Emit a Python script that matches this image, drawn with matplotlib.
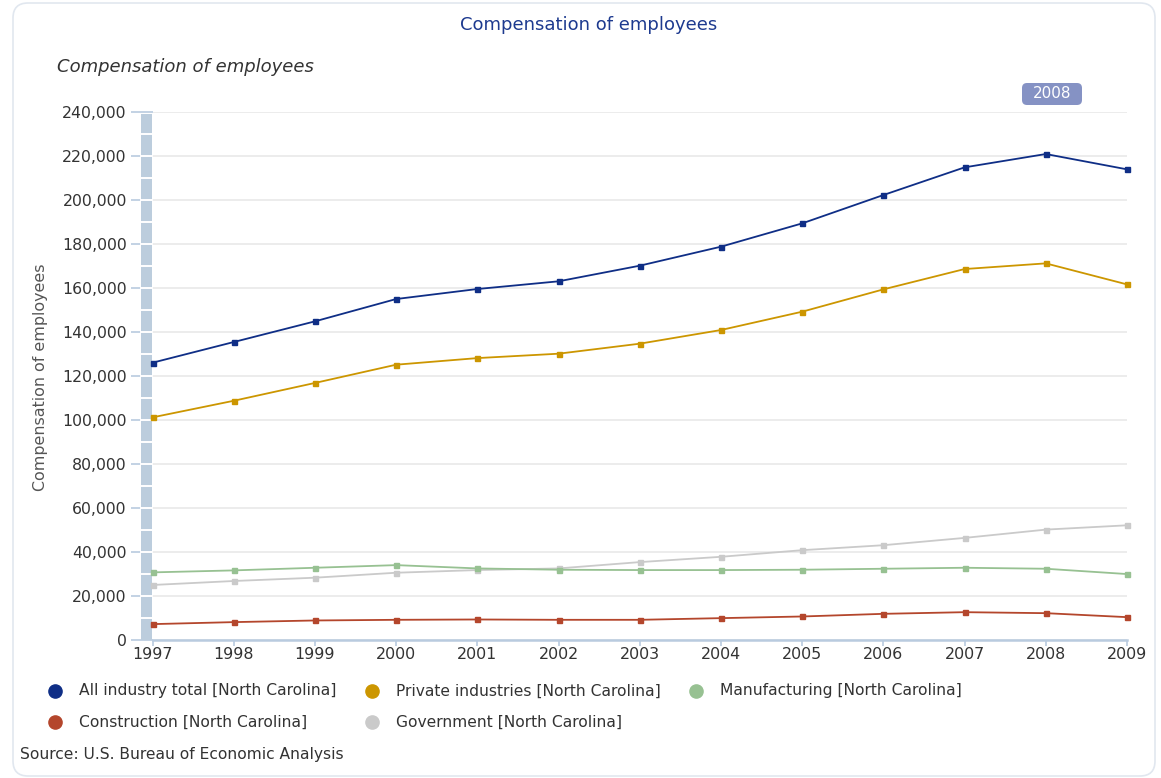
import matplotlib
matplotlib.use("Agg")
import matplotlib.pyplot as plt
from matplotlib.lines import Line2D
from matplotlib.patches import Rectangle, FancyBboxPatch
from matplotlib.transforms import IdentityTransform, blended_transform_factory
from matplotlib.ticker import FuncFormatter

# ---- data -------------------------------------------------------------
years = [1997, 1998, 1999, 2000, 2001, 2002, 2003, 2004, 2005, 2006, 2007, 2008, 2009]

all_industry = [125900, 135300, 144700, 154850, 159400, 162900, 170000,
                178640, 189240, 202120, 214700, 220760, 213800]
private_industries = [101060, 108600, 116700, 125000, 128000, 130000, 134550,
                      140760, 149090, 159240, 168480, 171060, 161500]
manufacturing = [30600, 31500, 32700, 33900, 32400, 31800, 31650,
                 31650, 31800, 32250, 32700, 32250, 29840]
construction = [7080, 7990, 8740, 9040, 9190, 9040, 9040,
                9800, 10550, 11760, 12510, 12060, 10250]
government = [24870, 26680, 28180, 30440, 31650, 32400, 35270,
              37680, 40690, 42950, 46270, 50040, 52000]

series_labels = [
    "All industry total [North Carolina]",
    "Private industries [North Carolina]",
    "Manufacturing [North Carolina]",
    "Construction [North Carolina]",
    "Government [North Carolina]",
]
series_values = [all_industry, private_industries, manufacturing, construction, government]
series_colors = ["#0f2e86", "#cc9600", "#97c192", "#b4462c", "#cacaca"]

y_ticks = list(range(0, 240001, 20000))
title = "Compensation of employees"
source_note = "Source: U.S. Bureau of Economic Analysis"
highlight_year = "2008"

# ---- figure -------------------------------------------------------------
W, H = 1161, 778
fig = plt.figure(figsize=(W / 100, H / 100), dpi=100)
plt.rcParams["font.family"] = ["DejaVu Sans"]


def fx(x):
    return x / W


def fy(y):
    return 1 - y / H


left_px, right_px, top_px, bottom_px = 152.5, 1127, 111.7, 639.7
ax = fig.add_axes([fx(left_px), fy(bottom_px),
                   (right_px - left_px) / W, (bottom_px - top_px) / H])
ax.set_xlim(years[0], years[-1])
ax.set_ylim(0, 240000)

axis_blue = "#b9cbdf"
text_dark = "#333333"

for vals, col, z in zip(series_values, series_colors, [6, 5, 4, 4, 3]):
    ax.plot(years, vals, color=col, lw=1.3, marker="s", ms=3.6,
            mec=col, mfc=col, clip_on=False, zorder=z)

# axes styling
for side in ["top", "right", "left"]:
    ax.spines[side].set_visible(False)
ax.spines["bottom"].set_color(axis_blue)
ax.spines["bottom"].set_linewidth(1.8)

ax.set_xticks(years)
ax.set_xticklabels([str(y) for y in years])
ax.set_yticks(y_ticks)
ax.yaxis.set_major_formatter(FuncFormatter(lambda v, p: f"{v:,.0f}"))
ax.tick_params(axis="x", length=4.5, width=1.2, color=axis_blue,
               labelsize=11.4, labelcolor=text_dark, pad=1)
ax.tick_params(axis="y", length=16, width=1.2, color=axis_blue,
               labelsize=11.3, labelcolor=text_dark, pad=2.5)
ax.yaxis.grid(True, color="#ebebeb", lw=1.3, zorder=0)
ax.set_axisbelow(True)

# range bar along the value axis
bt = blended_transform_factory(fig.transFigure, ax.transData)
bar = Rectangle((fx(141), 0), fx(152) - fx(141), 238900, transform=bt,
                facecolor="#bccddd", edgecolor="none", clip_on=False, zorder=2.6)
ax.add_artist(bar)
for v in range(10000, 240000, 10000):
    ax.add_artist(Line2D([fx(141), fx(152)], [v, v], transform=bt,
                         color="white", lw=1.4, clip_on=False, zorder=2.7))

# texts
fig.text(fx(588.5), fy(25), title, ha="center", va="center",
         fontsize=13, color="#1d3a8f")
fig.text(fx(57), fy(67), title, ha="left", va="center",
         fontsize=13, style="italic", color=text_dark)
fig.text(fx(41), fy(377.5), title, ha="center", va="center",
         rotation=90, fontsize=11.4, color="#555555")

# highlighted year badge
badge = FancyBboxPatch((1022, H - 105), 60, 22,
                       boxstyle="round,pad=0,rounding_size=5",
                       transform=IdentityTransform(),
                       facecolor="#8592c4", edgecolor="none", zorder=10)
fig.add_artist(badge)
fig.text(fx(1052), fy(94), highlight_year, ha="center", va="center",
         fontsize=11, color="white", zorder=11)

# legend
legend_pos = [(55, 691), (372, 691), (696, 691), (55, 722), (372, 722)]
for (mx, my), lab, col in zip(legend_pos, series_labels, series_colors):
    fig.add_artist(Line2D([fx(mx)], [fy(my)], marker="o", ms=9.5,
                          color=col, mec=col, transform=fig.transFigure))
    fig.text(fx(mx + 24), fy(my), lab, ha="left", va="center",
             fontsize=11.2, color=text_dark)

fig.text(fx(20), fy(755), source_note, ha="left", va="center",
         fontsize=11.2, color=text_dark)

# outer frame
frame = FancyBboxPatch((13, 2), 1142, 773,
                       boxstyle="round,pad=0,rounding_size=15",
                       transform=IdentityTransform(),
                       facecolor="none", edgecolor="#e1e7ef", lw=1.2, zorder=0)
fig.add_artist(frame)

fig.savefig("out.png", dpi=100)
